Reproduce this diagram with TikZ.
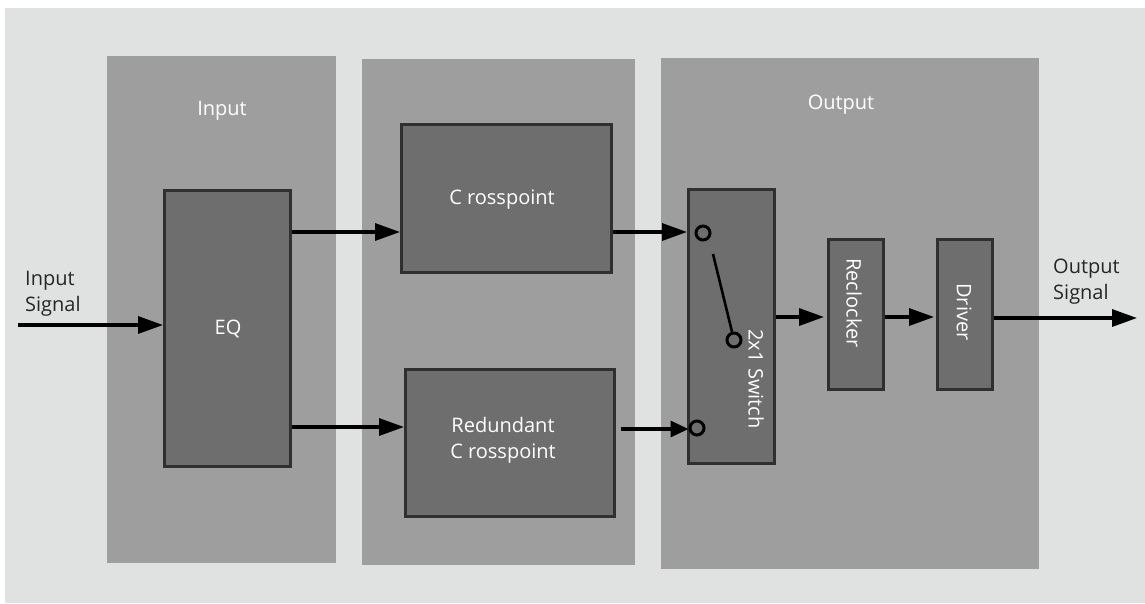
\documentclass[tikz,border=0pt]{standalone}
\usepackage{fontspec}
\setmainfont{Open Sans}
\usetikzlibrary{arrows.meta}
\definecolor{bgc}{HTML}{E0E2E2}
\definecolor{panelc}{HTML}{9E9E9E}
\definecolor{boxc}{HTML}{6E6E6E}
\definecolor{edgec}{HTML}{303030}
\tikzset{
 x=1pt,y=-1pt,
 panel/.style={fill=panelc,draw=none,inner sep=0},
 blockbox/.style={fill=boxc,draw=edgec,line width=2.8pt,inner sep=0,text=white,align=center,font=\fontsize{20}{26}\selectfont},
 lab/.style={text=white,font=\fontsize{20}{26}\selectfont,align=center},
 ext/.style={text=black!85,font=\fontsize{20}{26}\selectfont,align=left,inner sep=0},
 conn/.style={draw=black,line width=3.2pt,-{Triangle[length=25pt,width=17pt]}},
 shortconn/.style={draw=black,line width=3.2pt,-{Triangle[length=18pt,width=16pt]}},
 term/.style={circle,draw=black,line width=3pt,fill=none,minimum size=14pt,inner sep=0},
}
\newcommand{\boxat}[6][]{\node[blockbox,minimum width=#4pt,minimum height=#5pt,anchor=north west,#1] (#2) at (#3) {#6};}
\begin{document}
\begin{tikzpicture}
\useasboundingbox (0,0) rectangle (1145,603);
\fill[white] (0,0) rectangle (1145,603);
\fill[bgc] (5,8) rectangle (1145,603);
\node[panel,minimum width=229pt,minimum height=507pt,anchor=north west] (pi) at (107,56) {};
\node[panel,minimum width=273pt,minimum height=506pt,anchor=north west] (pc) at (362,59) {};
\node[panel,minimum width=378pt,minimum height=511pt,anchor=north west] (po) at (661,58) {};
\node[lab] (tinput) at (222,111) {Input};
\node[lab] (toutput) at (841,105) {Output};
\boxat{eq}{163,189}{126}{276}{}
\boxat{cp}{400,123}{210}{148}{}
\boxat{rc}{404,368}{209}{147}{}
\boxat{sw}{687,188}{86}{274}{}
\boxat{rk}{827,238}{55}{150}{}
\boxat{dr}{936,238}{55}{150}{}
\node[lab] (teq) at (228,329) {EQ};
\node[lab] (tcp) at (502,200) {C rosspoint};
\node[lab] (trc) at (503,440) {Redundant\\C rosspoint};
\node[lab,rotate=-90] (trk) at (854,303) {Reclocker};
\node[lab,rotate=-90] (tdr) at (964,312) {Driver};
\node[lab,rotate=-90] (tsw) at (756,379) {2x1 Switch};
\node[ext,anchor=west] (tin) at (25,294) {Input\\Signal};
\node[ext,anchor=west] (tout) at (1053,282) {Output\\Signal};
\node[term] (t1) at (703,233) {};
\node[term] (t2) at (734,340) {};
\node[term] (t3) at (697,428) {};
\coordinate (swa) at (713,254);
\draw[black,line width=2.6pt] (swa) -- (t2);
\coordinate (inS) at (18,325);
\coordinate (outE) at (1137,318);
\draw[conn] (inS) -- (eq.west |- inS);
\draw[conn] (eq.east |- 0,232) -- (cp.west |- 0,232);
\draw[conn] (eq.east |- 0,427) -- (rc.west |- 0,427);
\draw[conn] (cp.east |- 0,232) -- (sw.west |- 0,232);
\draw[shortconn] (rc.east |- 0,429) ++(5,0) -- (t3.west |- 0,429);
\draw[conn] (sw.east |- 0,317) -- (824,317);
\draw[conn] (rk.east |- 0,317) -- (934,317);
\draw[conn] (dr.east |- 0,318) -- (outE);
\end{tikzpicture}
\end{document}
